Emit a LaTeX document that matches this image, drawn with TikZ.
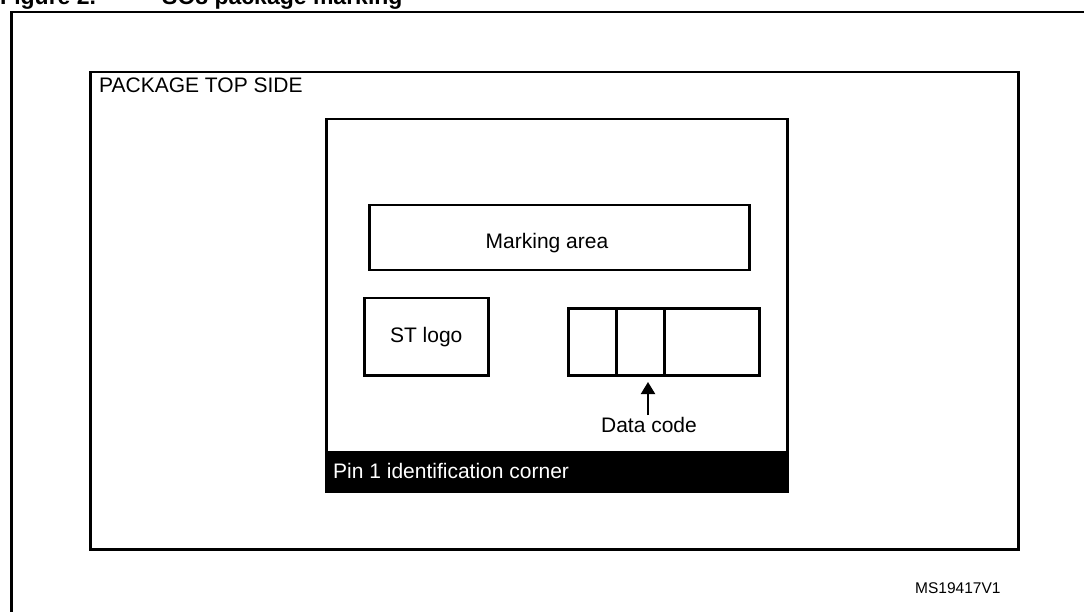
\documentclass[tikz,border=0pt]{standalone}
\usepackage{fontspec}
\setmainfont{Liberation Sans}
\usetikzlibrary{arrows.meta}
\begin{document}
\begin{tikzpicture}[x=1pt,y=-1pt,
  box/.style={draw,line width=2.5pt,inner sep=0pt,anchor=north west},
  lbl/.style={font=\fontsize{21}{25}\selectfont,inner sep=0pt},
  arr/.style={line width=2pt,-{Triangle[width=14pt,length=12pt]}}]
\useasboundingbox (0,0) rectangle (1084,612);
\clip (0,0) rectangle (1084,612);
% title (cut off at the top)
\node[font=\bfseries\fontsize{23}{27}\selectfont,inner sep=0pt,anchor=base west] (fig) at (0,5) {Figure 2.};
\node[font=\bfseries\fontsize{23}{27}\selectfont,inner sep=0pt,anchor=base west] (title) at (162,5) {SO8 package marking};
% outer frame
\node[box,minimum width=1100pt,minimum height=700pt] (frame) at (10,11) {};
% package top side
\node[box,minimum width=928pt,minimum height=477pt] (pkg) at (89,71) {};
\node[lbl,anchor=west] (pkglbl) at (99,85) {PACKAGE TOP SIDE};
% pin 1 band
\node[fill=black,inner sep=0pt,anchor=north west,minimum width=461pt,minimum height=39pt] (band) at (325,451) {};
\node[lbl,anchor=west,text=white] (pin) at (333,471) {Pin 1 identification corner};
% chip
\node[box,minimum width=461pt,minimum height=372pt] (chip) at (325,118) {};
\node[box,minimum width=380pt,minimum height=65pt] (mark) at (368,204) {};
\node[lbl] (marklbl) at (547,243) {Marking area};
\node[box,minimum width=124pt,minimum height=77pt] (logo) at (363,297) {};
\node[lbl] (logolbl) at (logo.center) {ST logo};
\node[box,minimum width=48pt,minimum height=67pt] (c1) at (567,307) {};
\node[box,minimum width=48pt,minimum height=67pt] (c2) at (615,307) {};
\node[box,minimum width=95pt,minimum height=67pt] (c3) at (663,307) {};
\node[lbl] (dc) at (649,425) {Data code};
\coordinate (tip) at (648,382);
\draw[arr] (dc.north -| tip) ++(0,-2) -- (tip);
% reference id
\node[font=\fontsize{15.5}{18}\selectfont,inner sep=0pt,anchor=west] (ms) at (915,588) {MS19417V1};
\end{tikzpicture}
\end{document}
